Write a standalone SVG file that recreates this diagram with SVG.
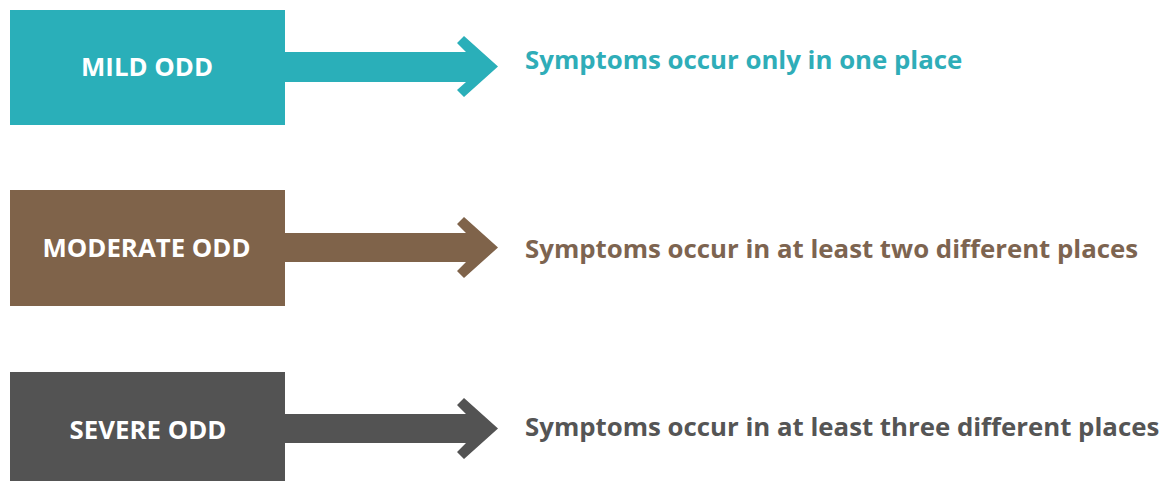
<svg xmlns="http://www.w3.org/2000/svg" width="1166" height="481" viewBox="0 0 1166 481">
<style>
.lbl{font-family:"Open Sans","Noto Sans","Liberation Sans",sans-serif;font-weight:700;font-size:25.8px;fill:#ffffff;text-anchor:middle}
.desc{font-family:"Open Sans","Noto Sans","Liberation Sans",sans-serif;font-weight:700;font-size:25.8px}
</style>
<rect width="1166" height="481" fill="#ffffff"/>
<g id="connectors">
<polygon fill="#2aafb9" points="284,52 466,52 457,43 464,36 498,66.5 464,97 457,90 466,82 284,82"/>
<polygon fill="#7f634a" points="284,233 466,233 457,224 464,217 498,247.5 464,278 457,271 466,262 284,262"/>
<polygon fill="#535353" points="284,414 466,414 457,405 464,398 498,428.5 464,459 457,452 466,443 284,443"/>
</g>
<g id="mild">
<rect x="10" y="10" width="275" height="115" fill="#2aafb9"/>
<text class="lbl" x="147" y="76">MILD ODD</text>
</g>
<g id="moderate">
<rect x="10" y="190" width="275" height="116" fill="#7f634a"/>
<text class="lbl" x="146.5" y="257">MODERATE ODD</text>
</g>
<g id="severe">
<rect x="10" y="372" width="275" height="116" fill="#535353"/>
<text class="lbl" x="148" y="439">SEVERE ODD</text>
</g>
<g id="desc-mild"><text class="desc" x="525" y="69" fill="#2fadb8">Symptoms occur only in one place</text></g>
<g id="desc-moderate"><text class="desc" x="525" y="258" fill="#7d6450">Symptoms occur in at least two different places</text></g>
<g id="desc-severe"><text class="desc" x="525" y="436" fill="#555555">Symptoms occur in at least three different places</text></g>
</svg>
